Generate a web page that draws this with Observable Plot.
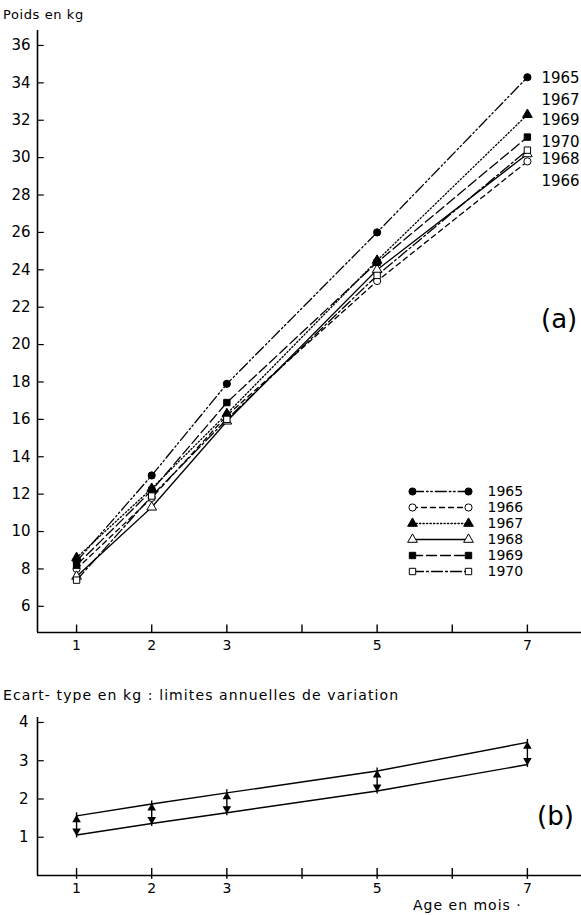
<!DOCTYPE html>
<html><head><meta charset="utf-8">
<script src="https://cdn.jsdelivr.net/npm/d3@7"></script>
<script src="https://cdn.jsdelivr.net/npm/@observablehq/plot@0.6"></script>
<style>
body{margin:0;background:#fff;}
#wrap{position:relative;width:581px;height:915px;overflow:hidden;font-family:"DejaVu Sans",sans-serif;color:#000;background:#fff}
.lbl{position:absolute;white-space:nowrap;line-height:1}
.plot{position:absolute;left:0}
</style></head><body><div id="wrap"></div>
<script>
// ---- data ----
const ages = [1, 2, 3, 5, 7];
const years = ["1965", "1966", "1967", "1968", "1969", "1970"];
const w1965 = [8.4, 13.0, 17.9, 26.0, 34.3];
const w1966 = [8.0, 11.8, 16.2, 23.4, 29.8];
const w1967 = [8.6, 12.3, 16.3, 24.5, 32.3];
const w1968 = [7.6, 11.3, 15.9, 24.0, 30.2];
const w1969 = [8.2, 12.2, 16.9, 24.4, 31.1];
const w1970 = [7.4, 11.9, 16.0, 23.7, 30.4];
const endLabelY = [34.25, 28.73, 33.06, 29.9, 31.99, 30.81]; // right-hand year labels
const sdAges = [1, 2, 3, 5, 7];
const sdUpper = [1.56, 1.87, 2.16, 2.73, 3.48];
const sdLower = [1.06, 1.36, 1.64, 2.21, 2.90];
const xTicks = [1, 2, 3, 4, 5, 6, 7];
const xTickLabels = [1, 2, 3, 5, 7];
const yTicksA = [6, 8, 10, 12, 14, 16, 18, 20, 22, 24, 26, 28, 30, 32, 34, 36];
const yTicksB = [1, 2, 3, 4];

const series = [w1965, w1966, w1967, w1968, w1969, w1970];
const styles = {
  "1965": {dash: "11,3,1.6,2.6,1.6,3", symbol: "circle", fill: "black"},
  "1966": {dash: "5,4", symbol: "circle", fill: "white"},
  "1967": {dash: "1.3,2.2", symbol: "triangle", fill: "black"},
  "1968": {dash: null, symbol: "triangle", fill: "white"},
  "1969": {dash: "10,4", symbol: "square", fill: "black"},
  "1970": {dash: "11,3,2,3", symbol: "square", fill: "white"}
};

const wrap = document.getElementById("wrap");
const FONT = '"DejaVu Sans", sans-serif';

function label(text, left, top, size, extra) {
  const d = document.createElement("div");
  d.className = "lbl";
  d.textContent = text;
  d.style.left = left + "px"; d.style.top = top + "px"; d.style.fontSize = size + "px";
  if (extra) Object.assign(d.style, extra);
  wrap.appendChild(d);
}

// ---- chart (a) ----
const xMin = 0.48, xMax = 7.72;
const yMinA = 4.6, yMaxA = 36.8;
const marksA = [
  Plot.ruleX([xMin], {y1: yMinA, y2: yMaxA, strokeWidth: 1.6}),
  Plot.ruleY([yMinA], {x1: xMin, x2: xMax, strokeWidth: 1.6}),
  Plot.ruleY(yTicksA, {y: d => d, x1: xMin, x2: xMin + 0.09, strokeWidth: 1.2}),
  Plot.ruleX(xTicks, {x: d => d, y1: yMinA, y2: yMinA + 0.4, strokeWidth: 1.4}),
  Plot.text(yTicksA, {x: xMin, y: d => d, text: d => String(d), textAnchor: "end", dx: -7, fontSize: 15}),
  Plot.text(xTickLabels, {x: d => d, y: yMinA, text: d => String(d), dy: 13, fontSize: 14})
];
years.forEach((yr, i) => {
  const data = ages.map((a, j) => ({age: a, w: series[i][j]}));
  const s = styles[yr];
  marksA.push(Plot.line(data, {x: "age", y: "w", stroke: "black", strokeWidth: 1.3, strokeDasharray: s.dash}));
  marksA.push(Plot.dot(data, {x: "age", y: "w", symbol: () => s.symbol, r: 3.6, fill: s.fill, stroke: "black", strokeWidth: 1}));
});
marksA.push(Plot.text(years, {x: 7, y: (d, i) => endLabelY[i], text: d => d, textAnchor: "start", dx: 14, fontSize: 15}));

const chartA = Plot.plot({
  width: 581, height: 660,
  marginTop: 30, marginBottom: 28, marginLeft: 37, marginRight: 0,
  x: {domain: [xMin, xMax], axis: null},
  y: {domain: [yMinA, yMaxA], axis: null},
  symbol: {type: "identity"},
  style: {fontFamily: FONT, background: "transparent"},
  marks: marksA
});
chartA.classList.add("plot");
chartA.style.top = "0px";
wrap.appendChild(chartA);

// ---- legend ----
const legMarks = [];
years.forEach(yr => {
  const s = styles[yr];
  const pts = [{x: 0, y: yr}, {x: 1, y: yr}];
  legMarks.push(Plot.line(pts, {x: "x", y: "y", stroke: "black", strokeWidth: 1.3, strokeDasharray: s.dash}));
  legMarks.push(Plot.dot(pts, {x: "x", y: "y", symbol: () => s.symbol, r: 3.6, fill: s.fill, stroke: "black", strokeWidth: 1}));
});
legMarks.push(Plot.text(years, {x: 1, y: d => d, text: d => d, textAnchor: "start", dx: 19, fontSize: 14}));
const legend = Plot.plot({
  width: 181, height: 105,
  marginTop: 11, marginBottom: 14, marginLeft: 12, marginRight: 113,
  x: {domain: [0, 1], axis: null},
  y: {type: "point", domain: years, axis: null, padding: 0},
  symbol: {type: "identity"},
  style: {fontFamily: FONT, background: "transparent", overflow: "visible"},
  marks: legMarks
});
legend.classList.add("plot");
legend.style.left = "400px";
legend.style.top = "480px";
wrap.appendChild(legend);

// ---- chart (b) ----
const yMinB = 0, yMaxB = 4.13;
const sd = sdAges.map((a, i) => ({age: a, up: sdUpper[i], lo: sdLower[i]}));
const chartB = Plot.plot({
  width: 581, height: 200,
  marginTop: 20, marginBottom: 22, marginLeft: 37, marginRight: 0,
  x: {domain: [xMin, xMax], axis: null},
  y: {domain: [yMinB, yMaxB], axis: null},
  style: {fontFamily: FONT, background: "transparent", overflow: "visible"},
  marks: [
    Plot.ruleX([xMin], {y1: yMinB, y2: yMaxB, strokeWidth: 1.6}),
    Plot.ruleY([yMinB], {x1: xMin, x2: xMax, strokeWidth: 1.6}),
    Plot.ruleY(yTicksB, {y: d => d, x1: xMin, x2: xMin + 0.09, strokeWidth: 1.2}),
    Plot.ruleX(xTicks, {x: d => d, y1: yMinB - 0.1, y2: yMinB + 0.18, strokeWidth: 1.4}),
    Plot.text(yTicksB, {x: xMin, y: d => d, text: d => String(d), textAnchor: "end", dx: -9, fontSize: 15}),
    Plot.text(xTickLabels, {x: d => d, y: yMinB, text: d => String(d), dy: 13, fontSize: 14}),
    Plot.line(sd, {x: "age", y: "up", stroke: "black", strokeWidth: 1.4}),
    Plot.line(sd, {x: "age", y: "lo", stroke: "black", strokeWidth: 1.4}),
    Plot.ruleX(sd, {x: "age", y1: "lo", y2: "up", stroke: "black", strokeWidth: 1.4, insetTop: 3, insetBottom: 3}),
    Plot.dot(sd, {x: "age", y: "up", symbol: "triangle", r: 3.2, fill: "black", stroke: null, dy: 4}),
    Plot.dot(sd, {x: "age", y: "lo", symbol: "triangle", rotate: 180, r: 3.2, fill: "black", stroke: null, dy: -4})
  ]
});
chartB.classList.add("plot");
chartB.style.top = "697px";
wrap.appendChild(chartB);

// ---- texts ----
label("Poids en kg", 3, 8, 13, {letterSpacing: "0.6px"});
label("(a)", 541, 306, 26);
label("Ecart- type en kg : limites annuelles de variation", 3, 688, 14, {letterSpacing: "1.1px"});
label("(b)", 537, 803, 26);
label("Age en mois  ·", 413, 898, 14, {letterSpacing: "1px"});
</script></body></html>
